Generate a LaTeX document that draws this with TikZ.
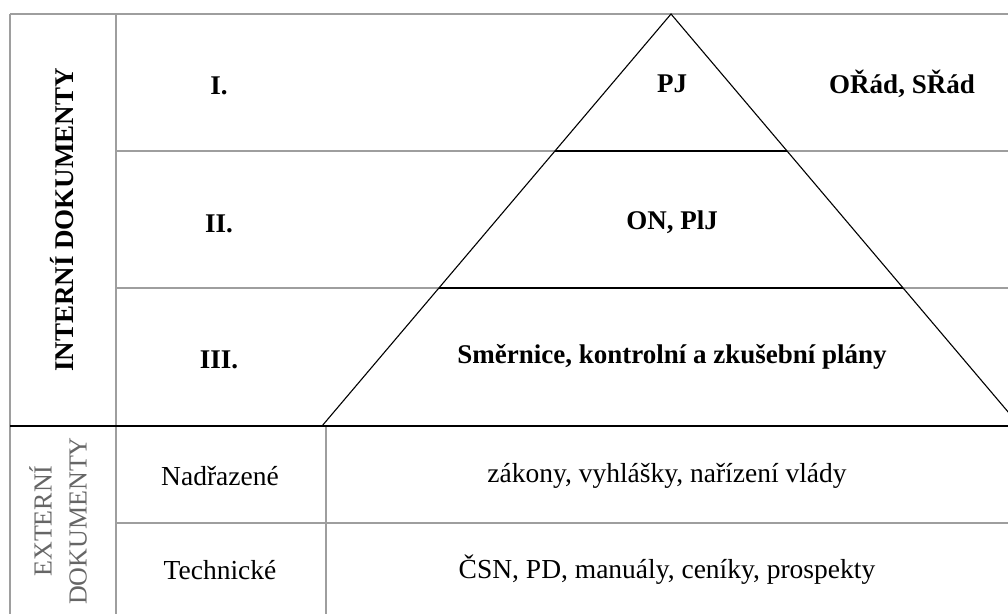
\documentclass[tikz,border=0pt]{standalone}
\usepackage{fontspec}
\setmainfont{Liberation Serif}
\begin{document}
\begin{tikzpicture}[x=1pt,y=-1pt,
  grid/.style={draw=black!38,line width=1.3pt},
  tri/.style={draw=black,line width=1.1pt,line join=miter},
  level/.style={draw=black,line width=1.8pt},
  lbl/.style={font=\fontsize{27}{30}\selectfont\bfseries,inner sep=0pt},
  txt/.style={font=\fontsize{27.5}{30}\selectfont,inner sep=0pt},
  side/.style={inner sep=0pt,rotate=90,align=center}]
\useasboundingbox (0,0) rectangle (1008,614);
\clip (0,0) rectangle (1008,614);
\fill[white] (0,0) rectangle (1008,614);

% table frame
\coordinate (tl) at (10,14);
\coordinate (tr) at (1008,14);
\coordinate (bl) at (10,614);
\coordinate (c1t) at (116,14);
\coordinate (c1b) at (116,614);
\draw[grid] (tl) -- (tr);
\draw[grid] (tl) -- (bl);
\draw[grid] (c1t) -- (c1b);
\draw[grid] (116,151) -- (1008,151);
\draw[grid] (116,288) -- (1008,288);
\draw[grid] (116,523) -- (1008,523);
\draw[grid] (326,426) -- (326,614);

% pyramid
\coordinate (apex) at (671,14);
\coordinate (bL) at (322,426);
\coordinate (bR) at (1020,426);
\draw[tri] (bL) -- (apex) -- (bR);
\draw[level] (555,151) -- (787,151);
\draw[level] (439,288) -- (903,288);
\draw[level] (10,426) -- (1008,426);

% level labels
\node[lbl] (l1) at (219,86) {I.};
\node[lbl] (l2) at (219,224) {II.};
\node[lbl] (l3) at (219,360) {III.};
\node[lbl] (pj) at (672,84) {PJ};
\node[lbl] (rad) at (902,84) {OŘád, SŘád};
\node[lbl] (on) at (672,222) {ON, PlJ};
\node[lbl] (sm) at (672,357) {Směrnice, kontrolní a zkušební plány};

% side headings
\node[side,font=\fontsize{27}{30}\selectfont\bfseries] (int) at (62,220) {INTERNÍ DOKUMENTY};
\node[side,text=black!60,font=\fontsize{26}{35}\selectfont] (ext) at (58,521) {EXTERNÍ\\DOKUMENTY};

% external rows
\node[txt] (nad) at (220,476) {Nadřazené};
\node[txt] (tech) at (220,570) {Technické};
\node[txt] (zak) at (667,476) {zákony, vyhlášky, nařízení vlády};
\node[txt] (csn) at (667,570) {ČSN, PD, manuály, ceníky, prospekty};
\end{tikzpicture}
\end{document}
